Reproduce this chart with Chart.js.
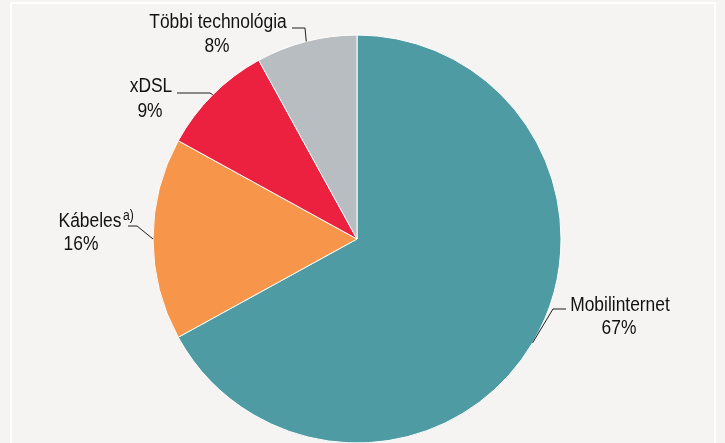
<!DOCTYPE html>
<html>
<head>
<meta charset="utf-8">
<script src="https://cdn.jsdelivr.net/npm/chart.js@4/dist/chart.umd.min.js"></script>
<style>
html,body{margin:0;padding:0;background:#F5F4F2;}
canvas{display:block;}
</style>
</head>
<body>
<canvas id="c" width="725" height="443"></canvas>
<script>
// Data
const categories = ["Mobilinternet", "Kábeles", "xDSL", "Többi technológia"];
const shares = [67, 16, 9, 8];
const percentLabels = ["67%", "16%", "9%", "8%"];
const footnotes = ["", "a)", "", ""];
const colors = ["#4E9BA3", "#F7964A", "#EB213F", "#B8BDC1"];

// Label layout (positions only)
const labelLayout = [
  {name:{x:620,y:311}, pct:{x:619,y:334}, path:[[566,309],[553,309]]},
  {name:{x:90,y:227}, pct:{x:81,y:250}, sup:{x:123,y:220}, path:[[128,226],[137,226]]},
  {name:{x:151,y:92}, pct:{x:150,y:116.5}, path:[[177,93],[210,93]]},
  {name:{x:218,y:28}, pct:{x:217,y:51.5}, path:[[292,28],[305,28]]}
];

const SX = 0.87;
function drawText(ctx, txt, x, y, size, align){
  ctx.save();
  ctx.translate(x, y);
  ctx.scale(SX, 1);
  ctx.font = size + 'px "Liberation Sans", Arial, sans-serif';
  ctx.textAlign = align || 'center';
  ctx.textBaseline = 'alphabetic';
  ctx.fillStyle = '#121212';
  ctx.fillText(txt, 0, 0);
  ctx.restore();
}

const framePlugin = {
  id:'frame',
  beforeDraw(chart){
    const ctx = chart.ctx;
    ctx.save();
    ctx.fillStyle = '#F5F4F2';
    ctx.fillRect(0,0,chart.width,chart.height);
    ctx.strokeStyle = '#FFFFFF';
    ctx.lineWidth = 2;
    ctx.strokeRect(11, 3, 704, 500);
    ctx.restore();
  }
};

const labelPlugin = {
  id:'labels',
  afterDraw(chart){
    const ctx = chart.ctx;
    const meta = chart.getDatasetMeta(0);
    meta.data.forEach((arc, i) => {
      const p = arc.getProps(['x','y','startAngle','endAngle','outerRadius'], true);
      const mid = (p.startAngle + p.endAngle) / 2;
      const ex = p.x + Math.cos(mid) * p.outerRadius;
      const ey = p.y + Math.sin(mid) * p.outerRadius;
      const L = labelLayout[i];
      ctx.save();
      ctx.strokeStyle = '#1E1E1E';
      ctx.lineWidth = 1;
      ctx.beginPath();
      ctx.moveTo(L.path[0][0], L.path[0][1]);
      for (let k = 1; k < L.path.length; k++) ctx.lineTo(L.path[k][0], L.path[k][1]);
      ctx.lineTo(ex, ey);
      ctx.stroke();
      ctx.restore();
      drawText(ctx, categories[i], L.name.x, L.name.y, 20, 'center');
      drawText(ctx, percentLabels[i], L.pct.x, L.pct.y, 20, 'center');
      if (footnotes[i] && L.sup) drawText(ctx, footnotes[i], L.sup.x, L.sup.y, 14, 'left');
    });
  }
};

new Chart(document.getElementById('c'), {
  type:'pie',
  data:{
    labels: categories,
    datasets:[{
      data: shares,
      backgroundColor: colors,
      borderColor:'#FFFFFF',
      borderWidth:1,
      radius:204
    }]
  },
  options:{
    responsive:false,
    animation:false,
    devicePixelRatio:1,
    layout:{padding:{left:153, right:164, top:35, bottom:0}},
    plugins:{legend:{display:false}, tooltip:{enabled:false}}
  },
  plugins:[framePlugin, labelPlugin]
});
</script>
</body>
</html>
